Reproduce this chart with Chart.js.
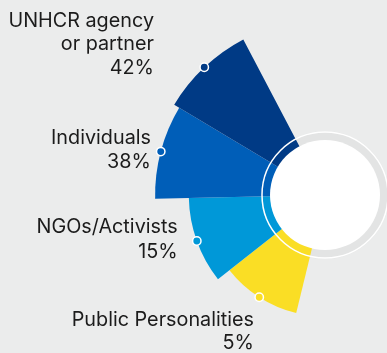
<!DOCTYPE html>
<html>
<head>
<meta charset="utf-8">
<script src="https://cdn.jsdelivr.net/npm/chart.js@4"></script>
<style>
  html, body { margin: 0; padding: 0; width: 387px; height: 353px; overflow: hidden; background: #ebecec; }
  #wrap { position: absolute; left: 0; top: -130px; width: 650px; height: 650px; }
</style>
</head>
<body>
<div id="wrap"><canvas id="chart" width="650" height="650"></canvas></div>
<script>
// top to bottom, as in the picture
const categories = ['UNHCR agency or partner', 'Individuals', 'NGOs/Activists', 'Public Personalities']
const labelLines = [['UNHCR agency', 'or partner'], ['Individuals'], ['NGOs/Activists'], ['Public Personalities']]
const shares = [42, 38, 15, 5]

const palette = ['#003a85', '#005eb8', '#0098d8', '#fade25']
const OFFSET_Y = 130 // canvas is shifted up by this much

// where the text blocks sit (right edge, baselines) in page pixels
const labelPos = [
  { x: 154, y: [26.7, 50.2, 74] },
  { x: 151, y: [144, 167.7] },
  { x: 177.7, y: [233.3, 257.7] },
  { x: 254, y: [325.7, 349] }
]

const ringPlugin = {
  id: 'ring',
  beforeDatasetsDraw(chart) {
    const { ctx } = chart
    const r = chart.scales.r
    ctx.save()
    ctx.fillStyle = '#e3e4e4'
    ctx.beginPath()
    ctx.arc(r.xCenter, r.yCenter, 64, 0, Math.PI * 2)
    ctx.fill()
    ctx.restore()
  },
  afterDatasetsDraw(chart) {
    const { ctx } = chart
    const r = chart.scales.r
    const cx = r.xCenter, cy = r.yCenter
    ctx.save()
    ctx.strokeStyle = '#ffffff'
    ctx.lineWidth = 1.5
    ctx.beginPath()
    ctx.arc(cx, cy, 63, 0, Math.PI * 2)
    ctx.stroke()
    ctx.fillStyle = '#ffffff'
    ctx.beginPath()
    ctx.arc(cx, cy, 55, 0, Math.PI * 2)
    ctx.fill()

    // dots on the middle of each outer edge
    chart.getDatasetMeta(0).data.forEach(arc => {
      const p = arc.getProps(['x', 'y', 'startAngle', 'endAngle', 'outerRadius'], true)
      const mid = (p.startAngle + p.endAngle) / 2
      ctx.beginPath()
      ctx.arc(p.x + Math.cos(mid) * p.outerRadius, p.y + Math.sin(mid) * p.outerRadius, 4.2, 0, Math.PI * 2)
      ctx.fillStyle = arc.options.backgroundColor
      ctx.fill()
      ctx.lineWidth = 1.5
      ctx.strokeStyle = '#ffffff'
      ctx.stroke()
    })

    // labels
    ctx.fillStyle = '#1b1b1b'
    ctx.font = '19.8px Inter'
    ctx.textAlign = 'right'
    ctx.textBaseline = 'alphabetic'
    labelLines.forEach((lines, i) => {
      const all = lines.concat([shares[i] + '%'])
      all.forEach((t, j) => ctx.fillText(t, labelPos[i].x, labelPos[i].y[j] + OFFSET_Y))
    })
    ctx.restore()
  }
}

// Chart.js lays arcs clockwise, so feed them bottom first
new Chart(document.getElementById('chart'), {
  type: 'polarArea',
  data: {
    labels: categories.slice().reverse(),
    datasets: [{
      data: shares.slice().reverse(),
      backgroundColor: palette.slice().reverse(),
      borderWidth: 0,
      angle: [38.1, 36.9, 32.2, 31.4]
    }]
  },
  options: {
    responsive: false,
    animation: false,
    layout: { padding: 139 },
    plugins: { legend: { display: false }, tooltip: { enabled: false } },
    scales: {
      r: {
        display: false,
        min: -78,
        max: 49,
        startAngle: 193.7
      }
    }
  },
  plugins: [ringPlugin]
})
</script>
</body>
</html>
